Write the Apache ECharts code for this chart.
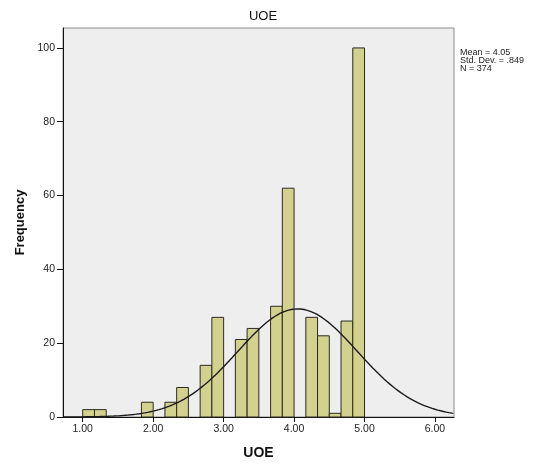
<!DOCTYPE html>
<html>
<head>
<meta charset="utf-8">
<script src="https://cdn.jsdelivr.net/npm/echarts@6/dist/echarts.min.js"></script>
<style>
  html, body { margin: 0; padding: 0; background: #ffffff; }
  #chart { width: 537px; height: 465px; }
</style>
</head>
<body>
<div id="chart"></div>
<script>
// Histogram bins of UOE (lower edge, upper edge) and their frequencies
const binLower = [1.0000, 1.1667, 1.3333, 1.5000, 1.6667, 1.8333, 2.0000, 2.1667,
                  2.3333, 2.5000, 2.6667, 2.8333, 3.0000, 3.1667, 3.3333, 3.5000,
                  3.6667, 3.8333, 4.0000, 4.1667, 4.3333, 4.5000, 4.6667, 4.8333];
const binUpper = [1.1667, 1.3333, 1.5000, 1.6667, 1.8333, 2.0000, 2.1667, 2.3333,
                  2.5000, 2.6667, 2.8333, 3.0000, 3.1667, 3.3333, 3.5000, 3.6667,
                  3.8333, 4.0000, 4.1667, 4.3333, 4.5000, 4.6667, 4.8333, 5.0000];
const counts   = [2, 2, 0, 0, 0, 4, 0, 4,
                  8, 0, 14, 27, 0, 21, 24, 0,
                  30, 62, 0, 27, 22, 1, 26, 100];

// Summary statistics shown beside the plot; the normal curve uses them too
const statMean = 4.05;
const statSD = 0.849;
const statN = 374;
const statBinWidth = 1 / 6;

// Axis tick values
const xTicks = [1, 2, 3, 4, 5, 6];
const yTicks = [0, 20, 40, 60, 80, 100];

const xMin = 0.72, xMax = 6.27, yMax = 105.4;

const barData = binLower.map((lo, i) => [lo, binUpper[i], counts[i]]);

// Normal density scaled to counts per bin
const curveData = [];
for (let x = xMin; x <= xMax + 1e-9; x += 0.02) {
  const z = (x - statMean) / statSD;
  const y = statN * statBinWidth * Math.exp(-0.5 * z * z) / (statSD * Math.sqrt(2 * Math.PI));
  curveData.push([x, y]);
}

const font = '"Liberation Sans", Arial, sans-serif';
const chart = echarts.init(document.getElementById('chart'), null, { renderer: 'canvas' });

chart.setOption({
  animation: false,
  backgroundColor: '#ffffff',
  title: {
    text: 'UOE',
    left: 258, top: 5, textAlign: 'center',
    textStyle: { fontFamily: font, fontSize: 13, fontWeight: 'normal', color: '#111' }
  },
  grid: {
    left: 63, right: 83, top: 28, bottom: 48,
    show: true, backgroundColor: '#eeeeee', borderColor: '#8a8a8a', borderWidth: 1
  },
  xAxis: {
    type: 'value', min: xMin, max: xMax,
    name: 'UOE', nameLocation: 'middle', nameGap: 29,
    nameTextStyle: { fontFamily: font, fontSize: 14, fontWeight: 'bold', color: '#111' },
    splitLine: { show: false },
    axisLine: { show: true, lineStyle: { color: '#111', width: 1 } },
    axisTick: { show: true, length: 5, customValues: xTicks, lineStyle: { color: '#111' } },
    axisLabel: {
      customValues: xTicks, margin: 7,
      fontFamily: font, fontSize: 10.5, color: '#222',
      formatter: v => v.toFixed(2)
    }
  },
  yAxis: {
    type: 'value', min: 0, max: yMax,
    name: 'Frequency', nameLocation: 'middle', nameGap: 34, nameRotate: 90,
    nameTextStyle: { fontFamily: font, fontSize: 13, fontWeight: 'bold', color: '#111' },
    splitLine: { show: false },
    axisLine: { show: true, lineStyle: { color: '#111', width: 1 } },
    axisTick: { show: true, length: 6, customValues: yTicks, lineStyle: { color: '#111' } },
    axisLabel: {
      customValues: yTicks, margin: 8,
      fontFamily: font, fontSize: 10.5, color: '#222'
    }
  },
  series: [
    {
      type: 'custom',
      data: barData,
      renderItem: function (params, api) {
        const h = api.value(2);
        if (!h) return null;
        const pTop = api.coord([api.value(0), h]);
        const pBase = api.coord([api.value(1), 0]);
        return {
          type: 'rect',
          shape: { x: pTop[0], y: pTop[1], width: pBase[0] - pTop[0], height: pBase[1] - pTop[1] },
          style: { fill: '#d3d18e', stroke: '#2b2b22', lineWidth: 1 }
        };
      },
      z: 2
    },
    {
      type: 'line',
      data: curveData,
      showSymbol: false,
      smooth: false,
      lineStyle: { color: '#1a1a1a', width: 1.4 },
      z: 3
    }
  ],
  graphic: [
    {
      type: 'text', left: 460, top: 48,
      style: {
        text: 'Mean = ' + statMean.toFixed(2) + '\nStd. Dev. = ' + String(statSD).replace(/^0/, '') + '\nN = ' + statN,
        fontFamily: font, fontSize: 9, lineHeight: 8, fill: '#222'
      }
    }
  ]
});
</script>
</body>
</html>
